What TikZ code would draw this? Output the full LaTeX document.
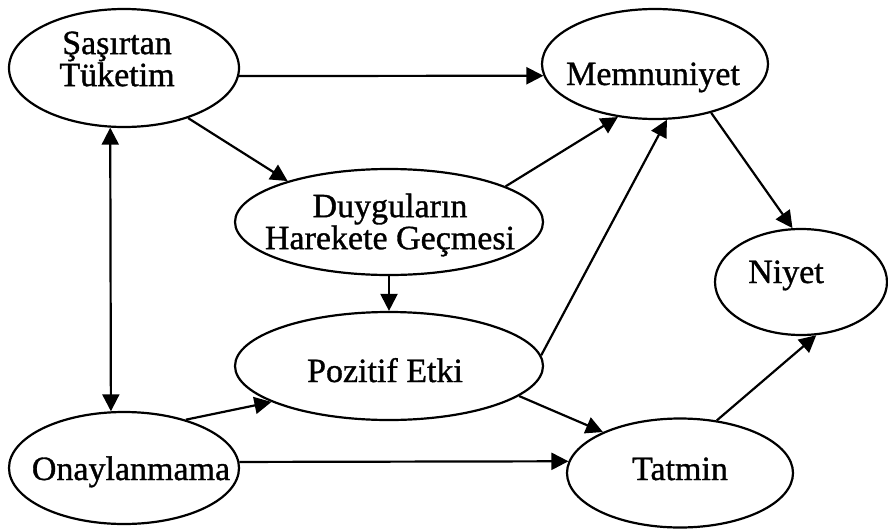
\documentclass[tikz,border=0pt]{standalone}
\usepackage{fontspec}
\setmainfont{Liberation Serif}
\newfontfamily\lblfont[FakeBold=1]{Liberation Serif}
\usetikzlibrary{shapes.geometric,arrows.meta}
\begin{document}
\begin{tikzpicture}[x=1pt,y=-1pt,
  oval/.style 2 args={ellipse, draw, line width=2.2pt, inner sep=0pt,
    minimum width=#1pt, minimum height=#2pt},
  lbl/.style={inner sep=0pt, align=center, font=\lblfont\fontsize{34}{32}\selectfont},
  link/.style={line width=2.2pt, -{Triangle[length=17pt,width=17pt]}},
  both/.style={line width=2.2pt, {Triangle[length=17pt,width=17pt]}-{Triangle[length=17pt,width=17pt]}}]
  \useasboundingbox (0,0) rectangle (888,530);

  % ellipses
  \node[oval={230}{118}] (sas) at (124,68) {};
  \node[oval={226}{110}] (mem) at (655,64) {};
  \node[oval={308}{106}] (dug) at (389,222) {};
  \node[oval={172}{106}] (niy) at (801,282) {};
  \node[oval={308}{108}] (poz) at (389,366) {};
  \node[oval={230}{112}] (ona) at (124,468) {};
  \node[oval={226}{109}] (tat) at (680,473) {};

  % labels
  \node[lbl] (sasT) at (117,59) {Şaşırtan\\Tüketim};
  \node[lbl, anchor=base] (memT) at (653,85) {Memnuniyet};
  \node[lbl] (dugT) at (390,225) {Duyguların\\Harekete Geçmesi};
  \node[lbl, anchor=base] (niyT) at (786,283) {Niyet};
  \node[lbl, anchor=base] (pozT) at (385,382) {Pozitif Etki};
  \node[lbl, anchor=base] (onaT) at (131,480) {Onaylanmama};
  \node[lbl, anchor=base] (tatT) at (680,480) {Tatmin};

  % connectors
  \draw[link] (sas.-4) -- (mem.186);
  \draw[link] (sas.-38) -- (dug.158.6);
  \draw[both] (sas.257.5) -- (ona.103.2);
  \draw[link] (dug.17) -- (mem.235);
  \draw[link] (dug.south) -- (poz.north);
  \draw[link] (poz.4.2) -- (mem.282);
  \draw[link] (poz.-13.6) -- (tat.152.8);
  \draw[link] (ona.38.2) -- (poz.197.6);
  \draw[link] (ona.3) -- (tat.174.2);
  \draw[link] (mem.319) -- (niy.99.3);
  \draw[link] (tat.55.3) -- (niy.286.8);
\end{tikzpicture}
\end{document}
